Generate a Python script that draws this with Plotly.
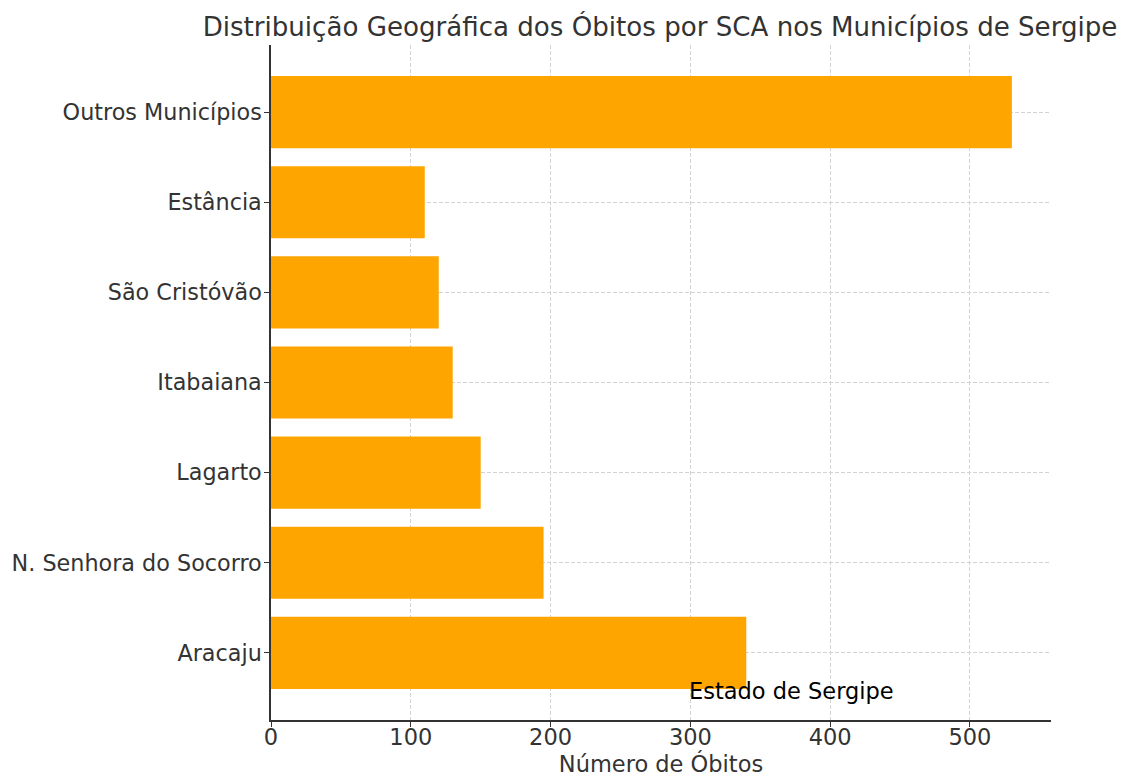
import plotly.graph_objects as go

categories = ["Aracaju", "N. Senhora do Socorro", "Lagarto", "Itabaiana",
              "São Cristóvão", "Estância", "Outros Municípios"]
obitos = [340, 195, 150, 130, 120, 110, 530]
x_ticks = [0, 100, 200, 300, 400, 500]

fig = go.Figure()
fig.add_trace(go.Bar(
    x=obitos, y=categories, orientation="h",
    marker=dict(color="#FFA500", line=dict(width=0)),
    width=0.8,
))

font = "DejaVu Sans"
fig.update_layout(
    width=1127, height=777,
    margin=dict(l=263, r=84, t=37, b=65),
    plot_bgcolor="white", paper_bgcolor="white",
    showlegend=False,
    font=dict(family=font, size=22.5, color="#333333"),
    title=dict(text="Distribuição Geográfica dos Óbitos por SCA nos Municípios de Sergipe",
               x=652 / 1127, xanchor="center", y=1 - 19 / 777, yanchor="middle",
               font=dict(size=26.1, color="#333333", family=font)),
    bargap=0.2,
)
grid = dict(showgrid=True, gridcolor="#d3d3d3", griddash="4px,2px", gridwidth=1,
            layer="above traces")
fig.update_xaxes(
    range=[0, 558], tickvals=x_ticks, ticks="outside", ticklen=5, tickcolor="#333333",
    showline=True, linecolor="#333333", linewidth=1.5,
    zeroline=False, automargin=False, ticklabelstandoff=-9,
    title=dict(text="Número de Óbitos", font=dict(size=22.5), standoff=3),
    tickfont=dict(size=22.5), **grid,
)
fig.update_yaxes(
    type="category", categoryorder="array", categoryarray=categories,
    range=[-0.745, 6.745], ticks="outside", ticklen=5, tickcolor="#333333",
    showline=True, linecolor="#333333", linewidth=1.5, ticklabelstandoff=-2,
    zeroline=False, automargin=False, tickfont=dict(size=22.3), **grid,
)
fig.add_annotation(x=300, y=-0.42, xref="x", yref="y", text="Estado de Sergipe",
                   showarrow=False, xanchor="left", yanchor="middle", xshift=-3,
                   font=dict(size=22.5, color="black", family=font))

fig.write_html("out.html")
